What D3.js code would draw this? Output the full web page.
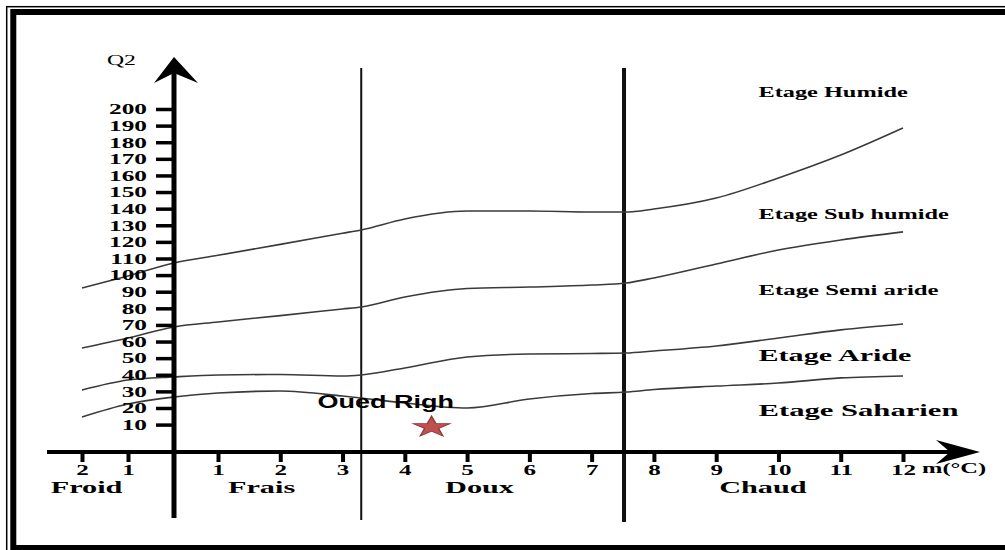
<!DOCTYPE html>
<html><head><meta charset="utf-8">
<script src="https://cdn.jsdelivr.net/npm/d3@7"></script>
<style>body{margin:0;background:#fff}svg{display:block}</style>
</head><body>
<svg id="c" width="1005" height="550"></svg>
<script>
// ---------- data ----------
const mTicks      = [-2,-1,1,2,3,4,5,6,7,8,9,10,11,12];
const mTickLabels = ["2","1","1","2","3","4","5","6","7","8","9","10","11","12"];
const q2Ticks     = [10,20,30,40,50,60,70,80,90,100,110,120,130,140,150,160,170,180,190,200];
const zoneNames   = ["Froid","Frais","Doux","Chaud"];
const zoneLabelM  = [-1.9,1.7,5.2,9.75];
const zoneBounds  = [3.3,7.52];
const curveM      = [-2,-1,0,1,2,3,3.3,4,5,6,7,7.55,8,9,10,11,12];
const limitHumide   = [92.2,99.5,107.3,111.9,118.5,125.2,127.2,133.8,138.6,138.6,138.0,138.0,139.8,146.4,158.5,172.3,188.6];
const limitSubHumid = [56.1,62.1,68.8,71.8,75.6,79.6,80.8,86.8,91.9,92.8,94.0,95.2,98.3,106.7,115.1,121.1,126.0];
const limitSemiArid = [30.8,36.8,38.7,39.9,40.2,39.3,39.9,44.1,50.7,52.5,52.8,53.1,54.3,57.3,62.1,67.0,70.6];
const limitAride    = [14.6,22.4,26.6,29.0,30.2,27.2,26.0,23.0,20.0,25.4,28.7,29.6,31.1,33.2,35.0,38.1,39.3];
const etageNames  = ["Etage Humide","Etage Sub humide","Etage Semi aride","Etage Aride","Etage Saharien"];
const etageQ2     = [207,134,88,48,15];
const etageM      = 9.68;
const stationName = "Oued Righ";
const stationM    = 4.43;
const stationQ2   = 8.5;

// ---------- styles / layout ----------
const SERIF = "'Liberation Serif','Times New Roman',serif";
const SANS  = "'Liberation Sans',Arial,sans-serif";
const etageSize    = [15,15,15,17,17.5];
const etageStretch = [1.62,1.62,1.65,1.77,1.75];

const svg = d3.select("#c");
svg.append("rect").attr("width",1005).attr("height",550).attr("fill","#fff");

const x = d3.scaleLinear().domain([-2,0,1,12]).range([82,174,218,903]);
const y = d3.scaleLinear().domain([-6.5,200]).range([452,109]);
const x0 = x(0), yAxisY = y.range()[0];

function stretch(sel, f){
  sel.each(function(){
    const L = this.getComputedTextLength();
    d3.select(this).attr("textLength", L*f).attr("lengthAdjust","spacingAndGlyphs");
  });
}

// frame
svg.append("rect").attr("x",6.7).attr("y",6.7).attr("width",1010).attr("height",560)
  .attr("fill","none").attr("stroke","#000").attr("stroke-width",1.5);
svg.append("rect").attr("x",13.3).attr("y",12).attr("width",1010).attr("height",536)
  .attr("fill","none").attr("stroke","#000").attr("stroke-width",6);

// zone boundaries
svg.selectAll("line.zb").data(zoneBounds).join("line").attr("class","zb")
  .attr("x1",d=>x(d)).attr("x2",d=>x(d)).attr("y1",68).attr("y2",(d,i)=>i?522:520)
  .attr("stroke","#111").attr("stroke-width",(d,i)=>i?4:2);

// curves
const line = d3.line().x((d,i)=>x(curveM[i])).y(d=>y(d)).curve(d3.curveMonotoneX);
svg.selectAll("path.lim").data([limitHumide,limitSubHumid,limitSemiArid,limitAride]).join("path")
  .attr("class","lim").attr("d",line).attr("fill","none").attr("stroke","#3a3a3a").attr("stroke-width",1.6);

// Y axis
const gy = svg.append("g").attr("transform",`translate(${x0},0)`)
  .call(d3.axisLeft(y).tickValues(q2Ticks).tickSize(18).tickPadding(9));
gy.select(".domain").remove();
gy.selectAll(".tick line").attr("stroke","#000").attr("stroke-width",3.5);
gy.selectAll(".tick text").attr("font-family",SERIF).attr("font-weight","bold").attr("font-size",15).attr("fill","#000")
  .call(stretch,1.69);

// X axis
const gx = svg.append("g").attr("transform",`translate(0,${yAxisY})`)
  .call(d3.axisBottom(x).tickValues(mTicks).tickSize(10).tickPadding(2.5).tickFormat((d,i)=>mTickLabels[i]));
gx.select(".domain").remove();
gx.selectAll(".tick line").attr("stroke","#000").attr("stroke-width",4);
gx.selectAll(".tick text").attr("font-family",SERIF).attr("font-weight","bold").attr("font-size",15).attr("fill","#000")
  .call(stretch,1.67);

// axis lines + arrows
svg.append("line").attr("x1",x0).attr("x2",x0).attr("y1",518).attr("y2",72).attr("stroke","#000").attr("stroke-width",5);
svg.append("line").attr("x1",47).attr("x2",952).attr("y1",yAxisY).attr("y2",yAxisY).attr("stroke","#000").attr("stroke-width",4);
svg.append("path").attr("d",`M${x0},57 L${x0+24},83 L${x0},73 L${x0-20},83 Z`).attr("fill","#000");
svg.append("path").attr("d",`M980,${yAxisY} L936,${yAxisY-12} L950,${yAxisY} L936,${yAxisY+12} Z`).attr("fill","#000");

// axis titles
svg.append("text").attr("x",107).attr("y",65).attr("font-family",SERIF).attr("font-size",15).text("Q2").call(stretch,1.58);
svg.append("text").attr("x",922).attr("y",473).attr("font-family",SERIF).attr("font-weight","bold").attr("font-size",14).text("m(°C)").call(stretch,1.75);

// zone labels
svg.selectAll("text.zone").data(zoneNames).join("text").attr("class","zone")
  .attr("x",(d,i)=>x(zoneLabelM[i])).attr("y",493).attr("text-anchor","middle")
  .attr("font-family",SERIF).attr("font-weight","bold").attr("font-size",17).text(d=>d).call(stretch,1.78);

// etage labels
svg.selectAll("text.etage").data(etageNames).join("text").attr("class","etage")
  .attr("x",x(etageM)).attr("y",(d,i)=>y(etageQ2[i]))
  .attr("font-family",SERIF).attr("font-weight","bold").attr("font-size",(d,i)=>etageSize[i]).text(d=>d)
  .each(function(d,i){ d3.select(this).call(stretch,etageStretch[i]); });

// station
svg.append("path").attr("d",d3.symbol(d3.symbolStar,136)())
  .attr("transform",`translate(${x(stationM)},${y(stationQ2)}) scale(1.75,1)`)
  .attr("fill","#c0504d").attr("stroke","#8c3836").attr("stroke-width",0.8);
svg.append("text").attr("x",x(stationM)-114).attr("y",y(stationQ2)-19)
  .attr("font-family",SANS).attr("font-weight","bold").attr("font-size",18).text(stationName).call(stretch,1.5);
</script>
</body></html>
